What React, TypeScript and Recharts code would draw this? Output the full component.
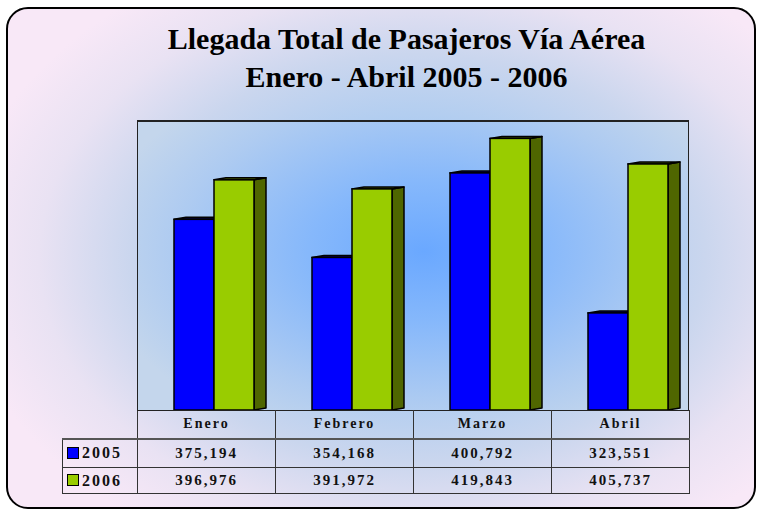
import { BarChart, Bar, XAxis, YAxis } from 'recharts';

const months = ['Enero', 'Febrero', 'Marzo', 'Abril'];
const seriesNames = ['2005', '2006'];
const values2005 = [375194, 354168, 400792, 323551];
const values2006 = [396976, 391972, 419843, 405737];

const colors = ['#0000ff', '#99cc00'];
const sideColors = ['#000080', '#4f6600'];

const data = months.map((m, i) => ({ month: m, y2005: values2005[i], y2006: values2006[i] }));

const fmt = (v: number) => v.toLocaleString('en-US');

const serif = "'Liberation Serif', 'Times New Roman', serif";

function Bar3D(props: any) {
  const { x, y, width, height, fill, side } = props;
  if (height == null || height <= 0) return null;
  const d = 12;
  const dy = 2;
  const X = x + 8;
  return (
    <g>
      <polygon
        points={`${X + width},${y} ${X + width + d},${y - dy} ${X + width + d},${y + height - dy} ${X + width},${y + height}`}
        fill={side}
        stroke="#000"
        strokeWidth={1.5}
        strokeLinejoin="round"
      />
      <polygon
        points={`${X},${y} ${X + d},${y - dy} ${X + width + d},${y - dy} ${X + width},${y}`}
        fill={side}
        stroke="#000"
        strokeWidth={1.5}
        strokeLinejoin="round"
      />
      <rect x={X} y={y} width={width} height={height} fill={fill} stroke="#000" strokeWidth={1.5} />
    </g>
  );
}

const cellBorder = '1px solid #333';

export default function App() {
  return (
    <div style={{ position: 'absolute', left: 0, top: 0, width: 758, height: 511, overflow: 'hidden', fontFamily: serif }}>
      <div
        style={{
          position: 'absolute',
          left: 6,
          top: 7,
          width: 750,
          height: 502,
          boxSizing: 'border-box',
          border: '2px solid #000',
          borderRadius: 22,
          background:
            'radial-gradient(ellipse 62% 66% at 55% 50%, #86baf7 0%, #a8caf1 35%, #cad6ee 62%, #e9e2f3 82%, #f8e8f7 100%)',
        }}
      />
      <div style={{ position: 'absolute', left: 0, top: 20, width: 813, textAlign: 'center', fontWeight: 'bold', fontSize: 30, lineHeight: '38px', color: '#000' }}>
        Llegada Total de Pasajeros Vía Aérea
        <br />
        Enero - Abril 2005 - 2006
      </div>
      <div
        style={{
          position: 'absolute',
          left: 137,
          top: 120,
          width: 552,
          height: 290,
          boxSizing: 'border-box',
          borderTop: '2px solid #222',
          borderLeft: '1px solid #222',
          borderRight: '1px solid #222',
          background: 'radial-gradient(ellipse 60% 70% at 52% 45%, #6aa8ff 0%, #86b8fb 35%, #aecbf1 75%, #c4d6ec 100%)',
        }}
      />
      <div style={{ position: 'absolute', left: 137, top: 120 }}>
        <BarChart width={552} height={290} data={data} margin={{ top: 0, right: 0, bottom: 0, left: 0 }} barGap={0} barSize={40}>
          <XAxis dataKey="month" hide />
          <YAxis hide domain={[270000, 430000]} allowDataOverflow />
          <Bar dataKey="y2005" fill={colors[0]} isAnimationActive={false} shape={(p: any) => <Bar3D {...p} side={sideColors[0]} />} />
          <Bar dataKey="y2006" fill={colors[1]} isAnimationActive={false} shape={(p: any) => <Bar3D {...p} side={sideColors[1]} />} />
        </BarChart>
      </div>
      <table
        style={{
          position: 'absolute',
          left: 62,
          top: 410,
          borderCollapse: 'collapse',
          tableLayout: 'fixed',
          width: 627,
          fontWeight: 'bold',
          color: '#111',
        }}
      >
        <colgroup>
          <col style={{ width: 75 }} />
          {months.map((m) => (
            <col key={m} style={{ width: 138 }} />
          ))}
        </colgroup>
        <tbody>
          <tr style={{ height: 28 }}>
            <td style={{ padding: 0 }} />
            {months.map((m) => (
              <td key={m} style={{ border: cellBorder, borderTop: '1px solid #222', textAlign: 'center', fontSize: 14, letterSpacing: 2, padding: 0 }}>
                {m}
              </td>
            ))}
          </tr>
          {[values2005, values2006].map((vals, si) => (
            <tr key={si} style={{ height: si === 0 ? 29 : 26 }}>
              <td style={{ border: cellBorder, borderTop: si === 0 ? '2px solid #555' : cellBorder, padding: '0 0 0 4px', fontSize: 16, letterSpacing: 2, whiteSpace: 'nowrap' }}>
                <span style={{ display: 'inline-block', width: 10, height: 10, background: colors[si], border: '1px solid #000', marginRight: 3, verticalAlign: 'middle', position: 'relative', top: -2 }} />
                {seriesNames[si]}
              </td>
              {vals.map((v, i) => (
                <td key={i} style={{ border: cellBorder, borderTop: si === 0 ? '2px solid #555' : cellBorder, textAlign: 'center', fontSize: 15, letterSpacing: 2, padding: 0 }}>
                  {fmt(v)}
                </td>
              ))}
            </tr>
          ))}
        </tbody>
      </table>
    </div>
  );
}
